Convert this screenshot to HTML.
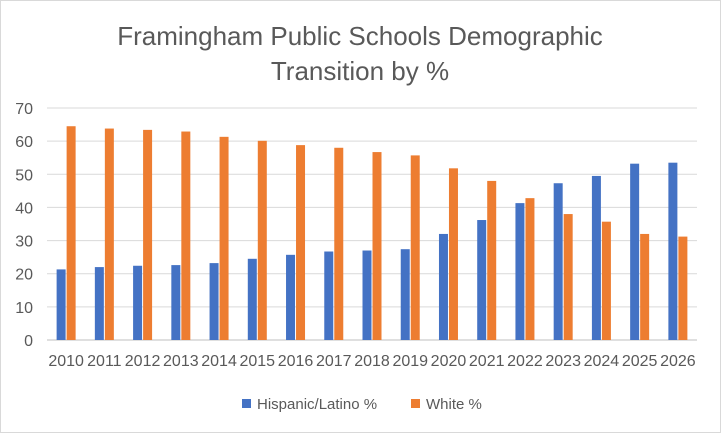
<!DOCTYPE html>
<html><head><meta charset="utf-8"><style>
body{margin:0;background:#fff;font-family:"Liberation Sans",sans-serif}
</style></head><body>
<svg id="chart" width="721" height="433" xmlns="http://www.w3.org/2000/svg" font-family="Liberation Sans, sans-serif">
<rect x="0.5" y="0.5" width="720" height="432" fill="#fff" stroke="#d9d9d9"/>
<text x="360" y="45" text-anchor="middle" font-size="26" fill="#595959">Framingham Public Schools Demographic</text>
<text x="360" y="80" text-anchor="middle" font-size="26" fill="#595959">Transition by %</text>
<g id="grid"></g><g id="bars"></g><g id="labels"></g>
<g>
<rect x="242" y="399" width="9" height="9" fill="#4472c4"/>
<text x="257" y="409" font-size="15" fill="#595959">Hispanic/Latino %</text>
<rect x="411" y="399" width="9" height="9" fill="#ed7d31"/>
<text x="426" y="409" font-size="15" fill="#595959">White %</text>
</g>
</svg>
<script>
const categories=["2010","2011","2012","2013","2014","2015","2016","2017","2018","2019","2020","2021","2022","2023","2024","2025","2026"];
const hispanic=[21.3,22,22.4,22.6,23.2,24.5,25.7,26.7,27,27.4,32,36.2,41.3,47.3,49.5,53.2,53.5];
const white=[64.5,63.8,63.4,62.9,61.3,60.1,58.8,58,56.7,55.7,51.8,48,42.8,38,35.7,32,31.2];
const yTicks=[0,10,20,30,40,50,60,70];
const NS="http://www.w3.org/2000/svg";
const left=47,right=697,y0=340,yTop=108,yMax=70;
const step=(right-left)/categories.length;
function y(v){return y0-(v/yMax)*(y0-yTop);}
function xc(i){return left+step*(i+0.5);}
function mk(t,a,p){const e=document.createElementNS(NS,t);for(const k in a)e.setAttribute(k,a[k]);p.appendChild(e);return e;}
const grid=document.getElementById('grid'),bars=document.getElementById('bars'),labels=document.getElementById('labels');
yTicks.forEach(v=>{
 const l=mk('line',{x1:left,x2:right,y1:y(v),y2:y(v),stroke:v===0?'#bfbfbf':'#d9d9d9','stroke-width':1},grid);
 
 
 const t=mk('text',{x:33,y:y(v)+6,'text-anchor':'end','font-size':16,fill:'#595959'},labels);
 t.textContent=v;
 
 
});
categories.forEach((c,i)=>{
 const bw=9;
 const b=mk('rect',{x:xc(i)-bw-0.5,y:y(hispanic[i]),width:bw,height:y0-y(hispanic[i]),fill:'#4472c4'},bars);
 
 
 const w=mk('rect',{x:xc(i)+0.5,y:y(white[i]),width:bw,height:y0-y(white[i]),fill:'#ed7d31'},bars);
 
 
 const t=mk('text',{x:xc(i),y:366,'text-anchor':'middle','font-size':16,fill:'#595959'},labels);
 t.textContent=c;
 
 
});
</script>
</body></html>
